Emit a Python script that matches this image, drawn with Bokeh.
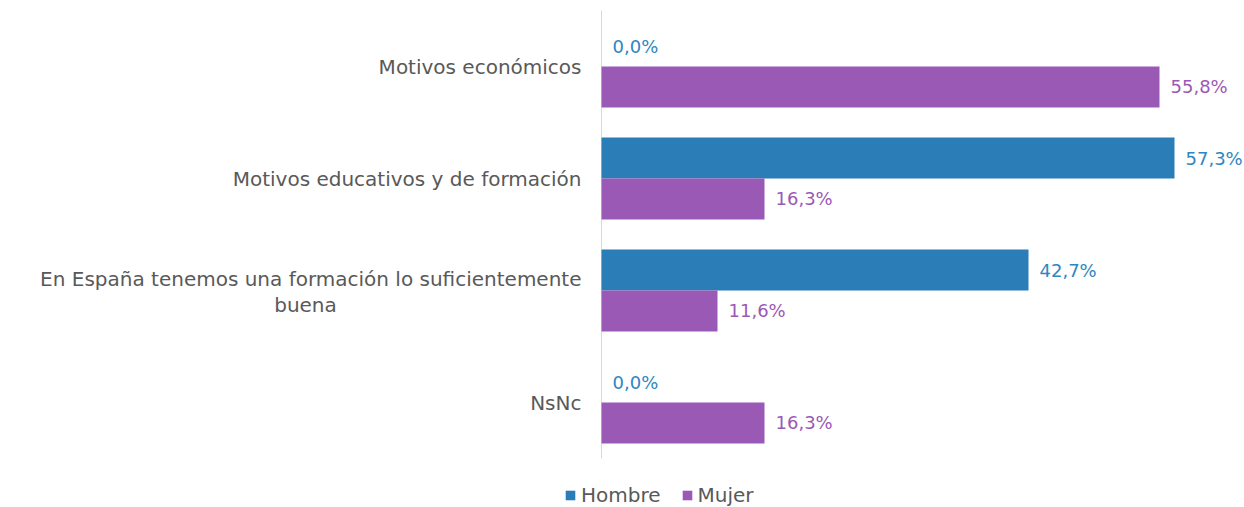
from bokeh.plotting import figure
from bokeh.models import ColumnDataSource, Range1d, Label, Legend, LegendItem
from bokeh.core.properties import value
from bokeh.embed import file_html
from bokeh.resources import INLINE

categories = ["Motivos económicos", "Motivos educativos y de formación",
              "En España tenemos una formación lo suficientemente\nbuena", "NsNc"]
hombre = [0.0, 57.3, 42.7, 0.0]
mujer = [55.8, 16.3, 11.6, 16.3]
series_names = ["Hombre", "Mujer"]

BLUE = "#2A7DB7"
PURPLE = "#9B59B6"
FONT = "DejaVu Sans"
FS_VAL = "18px"
FS_CAT = "20px"

W, H = 1244, 507
AX = 601      # pixel position of the zero line
PXU = 10.0    # pixels per percentage point
TOP = 10      # pixel top of the category band
CAT = 112.0   # pixels per category

n = len(categories)
ypos = [n - i - 0.5 for i in range(n)]
off = 0.183
bh = 0.366

p = figure(width=W, height=H, output_backend="svg", toolbar_location=None,
           x_range=Range1d(-AX / PXU, (W - AX) / PXU),
           y_range=Range1d(n - (H - TOP) / CAT, n + TOP / CAT),
           min_border_left=0, min_border_right=0, min_border_top=0, min_border_bottom=0)
p.xaxis.visible = False
p.yaxis.visible = False
p.grid.visible = False
p.outline_line_color = None

src_h = ColumnDataSource(dict(y=[y + off for y in ypos], v=hombre,
                              t=[f"{v:.1f}%".replace(".", ",") for v in hombre]))
src_m = ColumnDataSource(dict(y=[y - off for y in ypos], v=mujer,
                              t=[f"{v:.1f}%".replace(".", ",") for v in mujer]))

# zero axis line
p.segment(x0=[0], y0=[0], x1=[0], y1=[n], line_color="#D9D9D9", line_width=1)

rh = p.hbar(y="y", right="v", left=0, height=bh, source=src_h, color=BLUE, line_color=None)
rm = p.hbar(y="y", right="v", left=0, height=bh, source=src_m, color=PURPLE, line_color=None)

p.text(x="v", y="y", text="t", source=src_h, x_offset=11, text_baseline="middle",
       text_font=value(FONT), text_font_size=FS_VAL, text_color="#2E86C1")
p.text(x="v", y="y", text="t", source=src_m, x_offset=11, text_baseline="middle",
       text_font=value(FONT), text_font_size=FS_VAL, text_color=PURPLE)

for cat, y in zip(categories, ypos):
    lines = cat.split("\n")
    if len(lines) == 1:
        p.add_layout(Label(x=AX - 20, y=y, x_units="screen", text=cat, text_align="right",
                           text_baseline="middle", text_font=FONT, text_font_size=FS_CAT,
                           text_color="#595959"))
    else:
        p.add_layout(Label(x=AX - 20, y=y, x_units="screen", y_offset=12, text=lines[0],
                           text_align="right", text_baseline="middle", text_font=FONT,
                           text_font_size=FS_CAT, text_color="#595959"))
        p.add_layout(Label(x=305, y=y, x_units="screen", y_offset=-14, text=lines[1],
                           text_align="center", text_baseline="middle", text_font=FONT,
                           text_font_size=FS_CAT, text_color="#595959"))

legend = Legend(items=[LegendItem(label=series_names[0], renderers=[rh]),
                       LegendItem(label=series_names[1], renderers=[rm])],
                orientation="horizontal", location=(564, 0),
                label_text_font=FONT, label_text_font_size=FS_CAT, label_text_color="#595959",
                glyph_width=12, glyph_height=12, spacing=20, padding=0, margin=0,
                border_line_color=None, background_fill_alpha=0, label_standoff=5)
p.add_layout(legend, "center")

open("out.html", "w").write(file_html(p, INLINE))
